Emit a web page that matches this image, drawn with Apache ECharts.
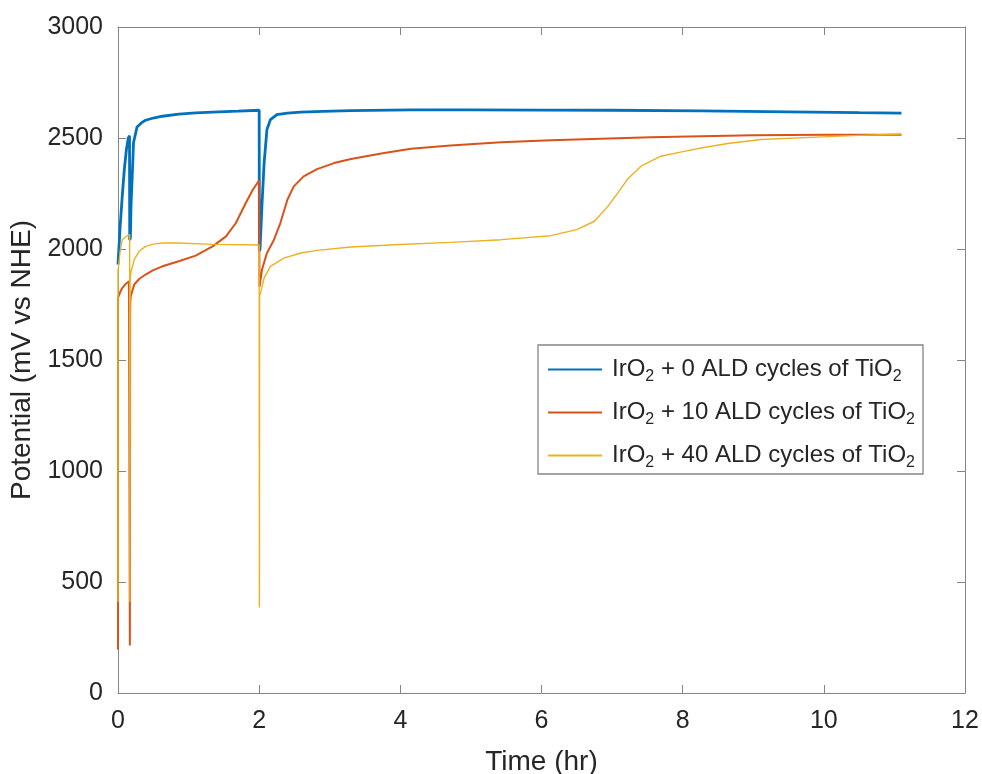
<!DOCTYPE html>
<html>
<head>
<meta charset="utf-8">
<title>Potential vs time</title>
<script src="https://cdn.jsdelivr.net/npm/echarts@6/dist/echarts.min.js"></script>
<style>
  html, body { margin: 0; padding: 0; background: #ffffff; }
  #chart { width: 982px; height: 774px; }
</style>
</head>
<body>
<div id="chart"></div>
<script>
// Chronopotentiometry traces: time in hours, potential in mV vs NHE.
const seriesNames = [
  'IrO{sub|2} + 0 ALD cycles of TiO{sub|2}',
  'IrO{sub|2} + 10 ALD cycles of TiO{sub|2}',
  'IrO{sub|2} + 40 ALD cycles of TiO{sub|2}'
];

// IrO2 + 0 ALD cycles
const time0 = [0, 0.03, 0.06, 0.09, 0.12, 0.146, 0.163, 0.166, 0.175, 0.185, 0.2, 0.22, 0.27, 0.33, 0.39, 0.5, 0.63, 0.86, 1.1, 1.34, 1.7, 2.0,
  2.003, 2.012, 2.04, 2.07, 2.11, 2.16, 2.25, 2.4, 2.59, 2.9, 3.3, 4.15, 5.0, 6.0, 7.0, 8.26, 9.5, 10.5, 11.1];
const volt0 = [1930, 2100, 2237, 2360, 2450, 2500, 2510, 2040, 2050, 2200, 2314, 2480, 2550, 2568, 2580, 2590, 2598, 2608, 2613, 2617, 2621, 2625,
  1990, 2000, 2200, 2387, 2538, 2583, 2605, 2612, 2617, 2620, 2623, 2627, 2627, 2626, 2625, 2622, 2618, 2614, 2612];

// IrO2 + 10 ALD cycles
const time10 = [0, 0, 0.03, 0.06, 0.1, 0.156, 0.166, 0.168, 0.172, 0.175, 0.18, 0.23, 0.3, 0.39, 0.5, 0.63, 0.86, 1.1, 1.34, 1.53, 1.67, 1.81, 1.91, 2.0,
  2.004, 2.01, 2.04, 2.11, 2.21, 2.3, 2.4, 2.49, 2.63, 2.82, 3.06, 3.3, 3.77, 4.15, 4.71, 5.43, 6.13, 6.84, 7.55, 8.26, 9.0, 10.0, 11.1];
const volt10 = [196, 1780, 1805, 1824, 1840, 1855, 1858, 214, 1700, 1763, 1787, 1840, 1865, 1885, 1905, 1922, 1945, 1970, 2012, 2057, 2117, 2207, 2267, 2309,
  1830, 1840, 1907, 1982, 2042, 2117, 2222, 2282, 2327, 2360, 2387, 2405, 2432, 2452, 2466, 2481, 2490, 2497, 2503, 2508, 2512, 2515, 2515];

// IrO2 + 40 ALD cycles
const time40 = [0, 0, 0.03, 0.06, 0.13, 0.165, 0.168, 0.172, 0.18, 0.23, 0.3, 0.39, 0.5, 0.63, 0.86, 1.34, 2.0,
  2.003, 2.006, 2.02, 2.07, 2.16, 2.35, 2.59, 2.82, 3.3, 4.0, 4.71, 5.43, 6.13, 6.5, 6.75, 6.94, 7.08, 7.22, 7.41, 7.69, 8.02, 8.26, 8.64, 9.11, 9.98, 10.5, 11.1];
const volt40 = [410, 1900, 1990, 2042, 2060, 2065, 410, 1850, 1892, 1952, 1990, 2012, 2022, 2027, 2027, 2021, 2018,
  385, 1790, 1802, 1869, 1922, 1959, 1982, 1994, 2009, 2020, 2030, 2042, 2060, 2087, 2125, 2192, 2252, 2315, 2373, 2418, 2440, 2455, 2475, 2493, 2505, 2512, 2518];

// Axis ticks
const xTicks = [0, 2, 4, 6, 8, 10, 12];
const yTicks = [0, 500, 1000, 1500, 2000, 2500, 3000];

const colors = ['#0072BD', '#D95319', '#EDB120'];
const lineWidths = [2.8, 2.0, 1.4];

const pairs = (ts, vs) => ts.map((t, i) => [t, vs[i]]);
const traces = [pairs(time0, volt0), pairs(time10, volt10), pairs(time40, volt40)];

const font = 'Liberation Sans, Arial, Helvetica, sans-serif';
const ink = '#262626';
const frame = '#858585';

const chart = echarts.init(document.getElementById('chart'), null, { renderer: 'canvas' });

const plainNumber = v => String(v);

const baseX = {
  type: 'value',
  min: xTicks[0],
  max: xTicks[xTicks.length - 1],
  interval: xTicks[1] - xTicks[0],
  splitLine: { show: false },
  axisLine: { show: true, onZero: false, lineStyle: { color: frame, width: 1 } },
  axisTick: { show: true, inside: true, length: 8, lineStyle: { color: frame } }
};
const baseY = {
  type: 'value',
  min: yTicks[0],
  max: yTicks[yTicks.length - 1],
  interval: yTicks[1] - yTicks[0],
  splitLine: { show: false },
  axisLine: { show: true, onZero: false, lineStyle: { color: frame, width: 1 } },
  axisTick: { show: true, inside: true, length: 8, lineStyle: { color: frame } }
};

chart.setOption({
  backgroundColor: '#ffffff',
  animation: false,
  grid: { left: 118, right: 17, top: 27, bottom: 81, containLabel: false, outerBoundsMode: 'none' },
  xAxis: [
    Object.assign({}, baseX, {
      position: 'bottom',
      name: 'Time (hr)',
      nameLocation: 'middle',
      nameGap: 55,
      nameTextStyle: { fontFamily: font, fontSize: 28, color: ink },
      axisLabel: { show: true, margin: 16, fontFamily: font, fontSize: 25, color: ink, formatter: plainNumber }
    }),
    Object.assign({}, baseX, { position: 'top', axisLabel: { show: false } })
  ],
  yAxis: [
    Object.assign({}, baseY, {
      position: 'left',
      name: 'Potential (mV vs NHE)',
      nameLocation: 'middle',
      nameGap: 72,
      nameTextStyle: { fontFamily: font, fontSize: 28, color: ink },
      axisLabel: { show: true, margin: 15, fontFamily: font, fontSize: 25, color: ink, formatter: plainNumber }
    }),
    Object.assign({}, baseY, { position: 'right', axisLabel: { show: false } })
  ],
  legend: {
    show: true,
    orient: 'vertical',
    left: 538,
    top: 345,
    padding: [9, 8, 3, 10],
    itemGap: 12,
    itemWidth: 54,
    itemHeight: 2,
    icon: 'rect',
    borderColor: '#858585',
    borderWidth: 1.3,
    backgroundColor: '#ffffff',
    data: seriesNames,
    textStyle: {
      fontFamily: font,
      fontSize: 24,
      color: ink,
      lineHeight: 28,
      padding: [0, 0, 0, 5],
      rich: {
        sub: { fontFamily: font, fontSize: 16, color: ink, lineHeight: 28, padding: [15, 0, 0, 0] }
      }
    }
  },
  series: traces.map((d, i) => ({
    name: seriesNames[i],
    type: 'line',
    xAxisIndex: 0,
    yAxisIndex: 0,
    data: d,
    showSymbol: false,
    symbol: 'none',
    smooth: false,
    clip: true,
    color: colors[i],
    lineStyle: { color: colors[i], width: lineWidths[i] },
    emphasis: { disabled: true }
  }))
});
</script>
</body>
</html>
